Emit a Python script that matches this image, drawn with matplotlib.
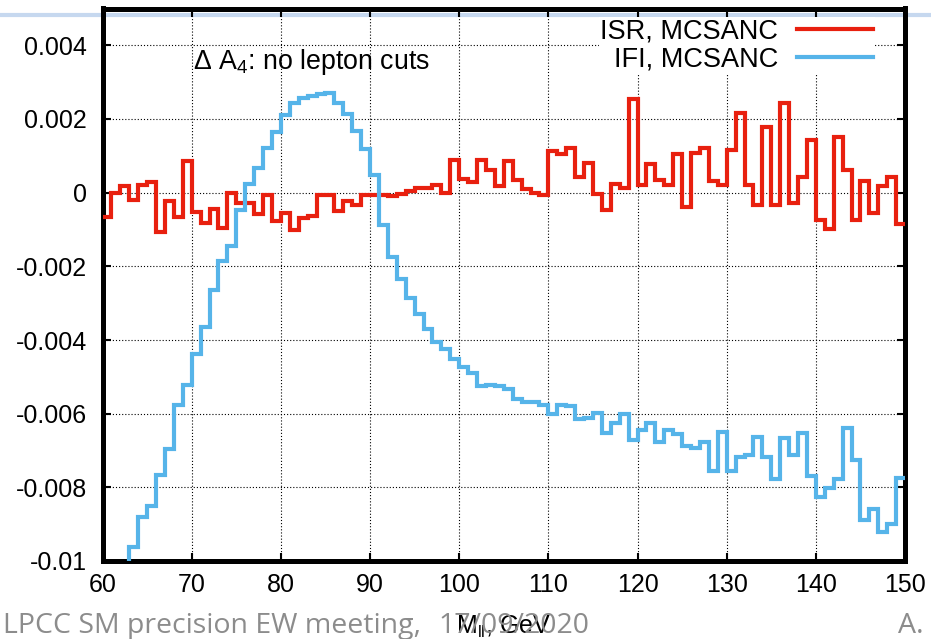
import matplotlib
matplotlib.use("Agg")
import matplotlib.pyplot as plt
import numpy as np
from matplotlib.lines import Line2D

plt.rcParams['font.family'] = ['Liberation Sans', 'DejaVu Sans']
plt.rcParams['mathtext.fontset'] = 'custom'
plt.rcParams['mathtext.rm'] = 'Liberation Sans'
plt.rcParams['mathtext.it'] = 'Liberation Sans:italic'

# bin edges in GeV (1 GeV bins, 60..150)
mll_edges = np.arange(60, 151, 1)

isr = [
    -0.00065, 0.0, 0.00017, -0.00021, 0.00022, 0.0003, -0.00107, -0.00023, -0.00065, 0.00085,
    -0.00052, -0.00083, -0.00045, -0.00097, 0.0, -0.00029, -0.00027, -0.00058, -0.00006, -0.00076,
    -0.00056, -0.00101, -0.0007, -0.00063, -0.00005, -0.00005, -0.00049, -0.00023, -0.00033, -0.00005,
    -0.00006, -0.00006, -0.0001, -0.00004, 0.00004, 0.00014, 0.00014, 0.0002, -0.00002, 0.00089,
    0.00036, 0.0003, 0.00089, 0.00062, 0.00017, 0.00087, 0.00035, 0.00009, -0.00001, -0.00005,
    0.00113, 0.00106, 0.0012, 0.00042, 0.0008, -0.00004, -0.00046, 0.00024, 0.00012, 0.00253,
    0.0002, 0.00078, 0.00034, 0.0002, 0.00105, -0.00039, 0.00109, 0.00122, 0.00032, 0.0002,
    0.00116, 0.00217, 0.00022, -0.00033, 0.00179, -0.00033, 0.00243, -0.00028, 0.00042, 0.00142,
    -0.00075, -0.00099, 0.00151, 0.00062, -0.00075, 0.00031, -0.00056, 0.00019, 0.00042, -0.00084,
]

ifi = [
    -0.0135, -0.0122, -0.0109, -0.00961, -0.0088, -0.00851, -0.00767, -0.00695, -0.00576, -0.00522,
    -0.00437, -0.00364, -0.00265, -0.00186, -0.00144, -0.00047, 0.00023, 0.00066, 0.00121, 0.00166,
    0.0021, 0.00244, 0.00258, 0.00262, 0.00267, 0.00271, 0.00243, 0.00214, 0.00167, 0.00119,
    0.00047, -0.00088, -0.00176, -0.00235, -0.00287, -0.00329, -0.0037, -0.00405, -0.00425, -0.00452,
    -0.00472, -0.00489, -0.00524, -0.00522, -0.00526, -0.00533, -0.0056, -0.00567, -0.00567, -0.00576,
    -0.006, -0.00576, -0.0058, -0.00615, -0.00612, -0.00598, -0.00653, -0.00626, -0.006, -0.00671,
    -0.00644, -0.00626, -0.00676, -0.00644, -0.00655, -0.00687, -0.00694, -0.00676, -0.00756, -0.00651,
    -0.00755, -0.00718, -0.00713, -0.00664, -0.00717, -0.00777, -0.00665, -0.00713, -0.00652, -0.00768,
    -0.00825, -0.00803, -0.00777, -0.00638, -0.00726, -0.00889, -0.00858, -0.0092, -0.009, -0.00775,
]

xticks = np.arange(60, 151, 10)
yticks = [-0.01, -0.008, -0.006, -0.004, -0.002, 0, 0.002, 0.004]
ytick_labels = ['-0.01', '-0.008', '-0.006', '-0.004', '-0.002', '0', '0.002', '0.004']

red = '#e8200f'
blue = '#56b4e9'

W, H = 931, 639
fig = plt.figure(figsize=(W / 100, H / 100), dpi=100)
ax = fig.add_axes([102.5 / W, 1 - 561 / H, (905 - 102.5) / W, (561 - 8.5) / H])

# slide decoration line behind the plot
ax.add_line(Line2D([0, 1], [1 - 15 / H] * 2, transform=fig.transFigure, clip_on=False,
                   color='#c6d8ef', lw=3, zorder=0.4))

ax.stairs(isr, mll_edges, baseline=None, color=red, lw=3, label='ISR, MCSANC', zorder=3)
ax.stairs(ifi, mll_edges, baseline=None, color=blue, lw=3, label='IFI, MCSANC', zorder=3)

ax.set_xlim(60, 150)
ax.set_ylim(-0.01, 0.005)
ax.set_xticks(xticks)
ax.set_yticks(yticks)
ax.set_yticklabels(ytick_labels)
ax.grid(True, color='black', lw=0.8, ls=(0, (1, 1.8)))
ax.set_axisbelow(True)

ax.tick_params(axis='both', direction='in', top=True, right=True, length=6, width=1.5,
               labelsize=18, color='black')
ax.tick_params(axis='x', pad=9)
ax.tick_params(axis='y', pad=11)
for s in ax.spines.values():
    s.set_linewidth(3.6)

ax.set_xlabel(r'M$_{\rm ll}$, GeV', fontsize=18)
ax.xaxis.set_label_coords(0.5, -0.096)

ax.text(70.2, 0.00356, r'$\Delta$ A$_{\rm 4}$: no lepton cuts', fontsize=19.3, va='center')

leg = ax.legend(loc='upper right', bbox_to_anchor=(875 / W, 1 - 17 / H),
                bbox_transform=fig.transFigure, markerfirst=False, fontsize=19.5,
                handlelength=2.8, handletextpad=0.7, labelspacing=0.05, borderpad=0.07,
                borderaxespad=0, frameon=True, fancybox=False, framealpha=1,
                edgecolor='none', facecolor='white')
leg.set_zorder(4)

# slide footer
fig.text(3 / W, 1 - 633 / H, 'LPCC SM precision EW meeting,', color='#8c8c8c',
         fontsize=20.5, family='Open Sans', va='baseline', ha='left')
fig.text(438 / W, 1 - 633 / H, '17/09/2020', color='#8c8c8c',
         fontsize=20.5, family='Open Sans', va='baseline', ha='left')
fig.text(898 / W, 1 - 633 / H, 'A.', color='#8c8c8c', fontsize=20.5, family='Open Sans',
         va='baseline', ha='left')

fig.savefig('out.png', dpi=100)
